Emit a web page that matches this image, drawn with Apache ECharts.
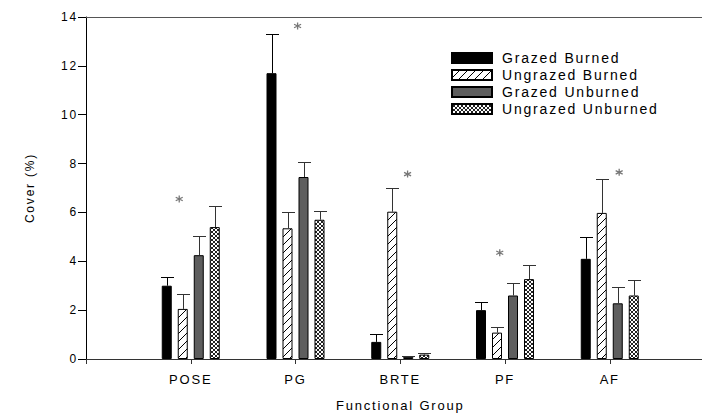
<!DOCTYPE html>
<html><head><meta charset="utf-8">
<script src="https://cdn.jsdelivr.net/npm/echarts@6/dist/echarts.min.js"></script>
<style>html,body{margin:0;padding:0;background:#fff}#c{width:702px;height:417px}#c text{letter-spacing:1.8px}</style>
</head><body><div id="c"></div>
<script>
// ---- data ----
const categories = ['POSE', 'PG', 'BRTE', 'PF', 'AF'];
const seriesNames = ['Grazed Burned', 'Ungrazed Burned', 'Grazed Unburned', 'Ungrazed Unburned'];
const grazedBurned = [3.0, 11.7, 0.7, 2.0, 4.1];
const grazedBurnedUpper = [3.37, 13.3, 1.01, 2.33, 5.01];
const ungrazedBurned = [2.05, 5.35, 6.03, 1.08, 5.98];
const ungrazedBurnedUpper = [2.65, 6.0, 7.01, 1.32, 7.38];
const grazedUnburned = [4.25, 7.45, 0.09, 2.6, 2.28];
const grazedUnburnedUpper = [5.05, 8.05, 0.12, 3.12, 2.96];
const ungrazedUnburned = [5.4, 5.7, 0.18, 3.27, 2.6];
const ungrazedUnburnedUpper = [6.28, 6.07, 0.23, 3.83, 3.22];
const starX = [0.89, 2.02, 3.07, 3.95, 5.09];
const starY = [6.55, 13.63, 7.57, 4.35, 7.64];
const yTicks = [0, 2, 4, 6, 8, 10, 12, 14];

// ---- patterns ----
function hatchCanvas() {
  const c = document.createElement('canvas'); c.width = 8; c.height = 8;
  const g = c.getContext('2d');
  g.fillStyle = '#fff'; g.fillRect(0, 0, 8, 8);
  g.strokeStyle = '#000'; g.lineWidth = 1;
  g.beginPath();
  g.moveTo(0, 8); g.lineTo(8, 0);
  g.moveTo(-1, 1); g.lineTo(1, -1);
  g.moveTo(7, 9); g.lineTo(9, 7);
  g.stroke();
  return c;
}
function crossCanvas() {
  const c = document.createElement('canvas'); c.width = 4; c.height = 4;
  const g = c.getContext('2d');
  g.fillStyle = '#fff'; g.fillRect(0, 0, 4, 4);
  g.strokeStyle = '#222'; g.lineWidth = 1;
  g.beginPath();
  g.moveTo(0, 0); g.lineTo(4, 4);
  g.moveTo(0, 4); g.lineTo(4, 0);
  g.stroke();
  return c;
}
const hatch = { image: hatchCanvas(), repeat: 'repeat', imageWidth: 8, imageHeight: 8 };
const cross = { image: crossCanvas(), repeat: 'repeat', imageWidth: 4, imageHeight: 4 };

const values = [grazedBurned, ungrazedBurned, grazedUnburned, ungrazedUnburned];
const uppers = [grazedBurnedUpper, ungrazedBurnedUpper, grazedUnburnedUpper, ungrazedUnburnedUpper];
const fills = ['#000', hatch, '#5e5e5e', cross];
const BAR_W = 10, BAR_GAP = 0.6;

const axisCats = [''].concat(categories).concat(['']);
const pad = arr => ['-'].concat(arr).concat(['-']);

const series = values.map((v, s) => ({
  name: seriesNames[s], type: 'bar', xAxisIndex: 0, yAxisIndex: 0,
  data: pad(v), barWidth: BAR_W, barGap: (BAR_GAP * 100) + '%',
  itemStyle: { color: fills[s], borderColor: '#000', borderWidth: 1 }
}));

const errData = [];
values.forEach((v, s) => v.forEach((val, i) => errData.push([i + 1, val, uppers[s][i], s])));

series.push({
  type: 'custom', xAxisIndex: 0, yAxisIndex: 0, z: 3,
  encode: { x: 0, y: [1, 2] },
  data: errData,
  renderItem: function (params, api) {
    const cat = api.value(0), v = api.value(1), up = api.value(2), s = api.value(3);
    const p0 = api.coord([cat, v]), p1 = api.coord([cat, up]);
    const x = Math.round(p0[0] + (s - 1.5) * BAR_W * (1 + BAR_GAP)) + 0.5;
    const y1 = Math.round(p1[1]) + 0.5;
    const col = s === 0 ? '#000' : '#333';
    return { type: 'group', children: [
      { type: 'line', shape: { x1: x, y1: p0[1], x2: x, y2: y1 }, style: { stroke: col, lineWidth: 1 } },
      { type: 'line', shape: { x1: x - 6.5, y1: y1, x2: x + 6.5, y2: y1 }, style: { stroke: col, lineWidth: 1 } }
    ] };
  }
});

series.push({
  type: 'scatter', xAxisIndex: 1, yAxisIndex: 0, z: 4,
  symbol: 'path://M5,0L5,10M0.67,2.5L9.33,7.5M0.67,7.5L9.33,2.5',
  symbolSize: 7,
  itemStyle: { color: 'transparent', borderColor: '#555', borderWidth: 1.3 },
  data: starX.map((x, i) => [x, starY[i]])
});

const FONT = "'Liberation Sans', Arial, sans-serif";
const chart = echarts.init(document.getElementById('c'), null, { renderer: 'svg' });
chart.setOption({
  animation: false,
  backgroundColor: '#fff',
  textStyle: { fontFamily: FONT, color: '#000' },
  grid: { left: 86, top: 17, width: 628.5, height: 342, containLabel: false, outerBoundsMode: 'none' },
  legend: {
    data: seriesNames, orient: 'vertical', left: 446, top: 46,
    itemWidth: 40, itemHeight: 10, itemGap: 3, icon: 'rect',
    textStyle: { fontFamily: FONT, fontSize: 14, color: '#000', padding: [0, 0, 0, 5] },
    selectedMode: false
  },
  xAxis: [{
    type: 'category', data: axisCats, boundaryGap: false, position: 'bottom',
    axisLine: { lineStyle: { color: '#333', width: 1 } },
    axisTick: { show: true, length: 5, interval: 0, lineStyle: { color: '#333' } },
    axisLabel: { fontSize: 13, margin: 14, color: '#000', interval: 0, fontFamily: FONT },
    splitLine: { show: false },
    name: 'Functional Group', nameLocation: 'middle', nameGap: 40,
    nameTextStyle: { fontSize: 13, color: '#000', fontFamily: FONT }
  }, {
    type: 'value', min: 0, max: 6, position: 'top',
    axisLine: { show: true, lineStyle: { color: '#555', width: 1 } },
    axisTick: { show: false }, axisLabel: { show: false }, splitLine: { show: false }
  }],
  yAxis: [{
    type: 'value', min: yTicks[0], max: yTicks[yTicks.length - 1], interval: yTicks[1] - yTicks[0],
    axisLine: { show: true, lineStyle: { color: '#000', width: 1 } },
    axisTick: { show: true, length: 8, lineStyle: { color: '#000' } },
    axisLabel: { fontSize: 12, margin: 8, color: '#000', fontFamily: FONT },
    splitLine: { show: false },
    name: 'Cover (%)', nameLocation: 'middle', nameGap: 50, nameRotate: 90,
    nameTextStyle: { fontSize: 12, color: '#000', fontFamily: FONT }
  }],
  series: series
});
</script></body></html>
